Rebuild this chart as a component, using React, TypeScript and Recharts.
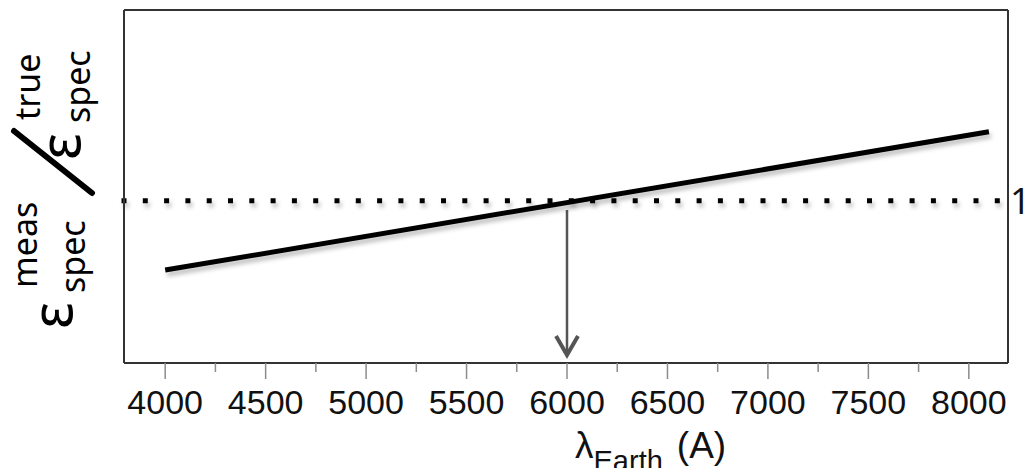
import React from 'react';
import { LineChart, Line, XAxis, YAxis, ReferenceLine } from 'recharts';

// ---- data ----
const lambdaA = [4000, 8100];
const ratio = [0.829, 1.17];
const majorTicks = [4000, 4500, 5000, 5500, 6000, 6500, 7000, 7500, 8000];
const minorTicks = [4250, 4750, 5250, 5750, 6250, 6750, 7250, 7750];
const rightTicks = [1];
const unityLevel = 1;
const arrowX = 6000;
const arrowFrom = 0.977;
const arrowTo = 0.615;
const xDomain: [number, number] = [3795, 8195];
const yDomain: [number, number] = [0.6, 1.47];

const allTicks = [...majorTicks, ...minorTicks].sort((a, b) => a - b);
const data = lambdaA.map((x, i) => ({ x, y: ratio[i] }));

const SANS = "'Liberation Sans', Arial, sans-serif";
const NOTO = "'Noto Sans', 'Open Sans', sans-serif";
const FRAME = { stroke: '#333', strokeWidth: 2 };

const XTick = (props: any) => {
  const { x, y, payload } = props;
  const major = majorTicks.includes(payload.value);
  return (
    <g>
      <line x1={x} x2={x} y1={y} y2={y + (major ? 16 : 9)} stroke="#8c8c8c" strokeWidth={1.5} />
      {major && (
        <text x={x} y={y + 51} textAnchor="middle" fontSize={34} fontFamily={SANS} fill="#111">
          {payload.value}
        </text>
      )}
    </g>
  );
};

const RTick = (props: any) => {
  const { x, y, payload } = props;
  return (
    <text x={x + 2} y={y + 13} fontSize={36} fontFamily={NOTO} fill="#111">
      {payload.value}
    </text>
  );
};

const Group = ({ x0, y0, sup, sub, supU, subU, supV, subV }: any) => (
  <g transform={`translate(${x0},${y0}) rotate(-90)`} fontFamily={NOTO} fill="#000">
    <text x={-2} y={0} fontSize={57}>ε</text>
    <text x={supU} y={supV} fontSize={34}>{sup}</text>
    <text x={subU} y={subV} fontSize={34}>{sub}</text>
  </g>
);

const YLabel = () => (
  <g>
    <Group x0={72} y0={327} sup="meas" sub="spec" supU={39} supV={-35} subU={34} subV={13} />
    <line x1={14} y1={131} x2={92} y2={193} stroke="#000" strokeWidth={6} strokeLinecap="round" />
    <Group x0={80} y0={158} sup="true" sub="spec" supU={38} supV={-40} subU={35} subV={10} />
  </g>
);

const XLabel = () => (
  <text x={575} y={458} fontFamily={SANS} fill="#111">
    <tspan fontSize={37}>λ</tspan>
    <tspan fontSize={29} dy={13}>Earth</tspan>
    <tspan fontSize={37} dy={-13} dx={14}>(A)</tspan>
  </text>
);

const DottedShape = (p: any) => (
  <line
    x1={p.x1 - 2.5}
    y1={p.y1}
    x2={p.x2}
    y2={p.y2}
    stroke="#000"
    strokeWidth={5}
    strokeDasharray="5 16.3"
    filter="url(#soft)"
  />
);

const FrameLine = (p: any) => (
  <line x1={p.x1} y1={p.y1} x2={p.x2} y2={p.y2} stroke="#333" strokeWidth={2} />
);

const ArrowShape = (p: any) => {
  const { x1, y1, x2, y2 } = p;
  return (
    <g>
      <line x1={x1} y1={y1} x2={x2} y2={y2 - 2} stroke="#555" strokeWidth={2.5} />
      <polyline
        points={`${x2 - 11},${y2 - 21} ${x2},${y2 - 2} ${x2 + 11},${y2 - 21}`}
        fill="none"
        stroke="#555"
        strokeWidth={4}
        strokeLinejoin="miter"
      />
    </g>
  );
};

export default function App() {
  return (
    <div style={{ margin: -8 }}>
      <LineChart width={1032} height={476} data={data} margin={{ top: 10, right: 0, bottom: 0, left: 0 }}>
        <defs>
          <filter id="soft" filterUnits="userSpaceOnUse" x="0" y="0" width="1032" height="476">
            <feDropShadow dx="2" dy="4" stdDeviation="2" floodColor="#000" floodOpacity="0.25" />
          </filter>
        </defs>
        <XAxis
          xAxisId="b"
          dataKey="x"
          type="number"
          domain={xDomain}
          allowDataOverflow
          ticks={allTicks}
          interval={0}
          height={113}
          tickSize={0}
          tickMargin={0}
          tickLine={false}
          axisLine={FRAME}
          tick={<XTick />}
          label={{ content: XLabel }}
        />
        <YAxis
          yAxisId="l"
          type="number"
          domain={yDomain}
          allowDataOverflow
          width={124}
          tick={false}
          tickLine={false}
          axisLine={FRAME}
          label={{ content: YLabel }}
        />
        <YAxis
          yAxisId="r"
          orientation="right"
          type="number"
          domain={yDomain}
          allowDataOverflow
          width={24}
          ticks={rightTicks}
          interval={0}
          tickSize={0}
          tickMargin={0}
          tickLine={false}
          axisLine={false}
          tick={<RTick />}
        />
        <ReferenceLine xAxisId="b" yAxisId="l" y={yDomain[1]} shape={FrameLine} />
        <ReferenceLine xAxisId="b" yAxisId="l" x={xDomain[1]} shape={FrameLine} />
        <ReferenceLine xAxisId="b" yAxisId="l" y={unityLevel} shape={DottedShape} />
        <ReferenceLine
          xAxisId="b"
          yAxisId="l"
          segment={[
            { x: arrowX, y: arrowFrom },
            { x: arrowX, y: arrowTo },
          ]}
          shape={ArrowShape}
        />
        <Line
          xAxisId="b"
          yAxisId="l"
          dataKey="y"
          stroke="#000"
          strokeWidth={5}
          dot={false}
          filter="url(#soft)"
          isAnimationActive={false}
        />
      </LineChart>
    </div>
  );
}
